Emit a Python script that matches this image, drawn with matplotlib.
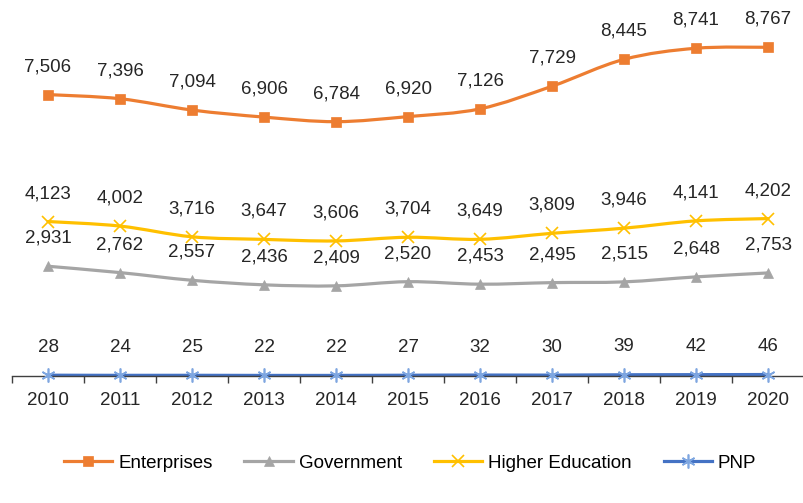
import matplotlib.pyplot as plt
import numpy as np
from matplotlib.path import Path
from matplotlib.patches import PathPatch
from matplotlib.lines import Line2D

plt.rcParams['font.family'] = ['Liberation Sans', 'DejaVu Sans']

years = ['2010', '2011', '2012', '2013', '2014', '2015', '2016', '2017', '2018', '2019', '2020']
enterprises = [7506, 7396, 7094, 6906, 6784, 6920, 7126, 7729, 8445, 8741, 8767]
government = [2931, 2762, 2557, 2436, 2409, 2520, 2453, 2495, 2515, 2648, 2753]
higher_ed = [4123, 4002, 3716, 3647, 3606, 3704, 3649, 3809, 3946, 4141, 4202]
pnp = [28, 24, 25, 22, 22, 27, 32, 30, 39, 42, 46]

series = [
    ('Enterprises', enterprises, '#ED7D31', 's', '#ED7D31', 7),
    ('Government', government, '#A5A5A5', '^', '#A5A5A5', 7),
    ('Higher Education', higher_ed, '#FFC000', 'x', '#FFC000', 8),
    ('PNP', pnp, '#4472C4', (6, 2, 0), '#7EA6E0', 10),
]

FS = 13.5


def smooth_path(x, y, t=1/6):
    # bezier smoothing like excel's "smoothed line"
    verts = [(x[0], y[0])]
    codes = [Path.MOVETO]
    n = len(x)
    for i in range(n - 1):
        x0, y0 = (x[i - 1], y[i - 1]) if i > 0 else (x[i], y[i])
        x3, y3 = (x[i + 2], y[i + 2]) if i + 2 < n else (x[i + 1], y[i + 1])
        c1 = (x[i] + (x[i + 1] - x0) * t, y[i] + (y[i + 1] - y0) * t)
        c2 = (x[i + 1] - (x3 - x[i]) * t, y[i + 1] - (y3 - y[i]) * t)
        verts += [c1, c2, (x[i + 1], y[i + 1])]
        codes += [Path.CURVE4] * 3
    return Path(verts, codes)


fig = plt.figure(figsize=(8.04, 5.03), dpi=100)
ax = fig.add_axes([0.015, 0.252, 0.985, 0.746])
xs = np.arange(len(years))

handles = []
for name, vals, col, mk, mcol, ms in series:
    mew = 1.2 if mk == 'x' or isinstance(mk, tuple) else 0.5
    p = PathPatch(smooth_path(xs, np.array(vals, float)), fill=False, edgecolor=col, lw=2.3,
                  capstyle='round', joinstyle='round', zorder=2)
    ax.add_patch(p)
    ax.plot(xs, vals, linestyle='none', marker=mk, markersize=ms, color=mcol,
            markeredgecolor=mcol, markeredgewidth=mew, zorder=3, clip_on=False)
    for xi, v in zip(xs, vals):
        ax.annotate(f'{v:,}', (xi, v), xytext=(0, 14), textcoords='offset points',
                    ha='center', va='bottom', fontsize=FS, color='#262626')
    handles.append(Line2D([0], [0], color=col, lw=2.3, marker=mk, markersize=ms,
                          markerfacecolor=mcol, markeredgecolor=mcol, markeredgewidth=mew))

ax.set_xlim(-0.5, len(years) - 0.5)
ax.set_ylim(0, 10000)
ax.set_yticks([])
for s in ['top', 'right', 'left']:
    ax.spines[s].set_visible(False)
ax.spines['bottom'].set_color('#404040')
ax.spines['bottom'].set_linewidth(1.0)
ax.set_xticks(xs)
ax.set_xticklabels(years, fontsize=FS, color='#262626')
ax.set_xticks(np.arange(-0.5, len(years), 1), minor=True)
ax.tick_params(axis='x', which='major', length=0, pad=11)
ax.tick_params(axis='x', which='minor', length=5, color='#404040', width=1)

fig.legend(handles=handles, labels=[s[0] for s in series], loc='center',
           bbox_to_anchor=(0.51, 0.079), ncol=4, frameon=False, fontsize=FS,
           handlelength=2.6, columnspacing=1.7, handletextpad=0.3)

fig.savefig('out.png', dpi=100)
